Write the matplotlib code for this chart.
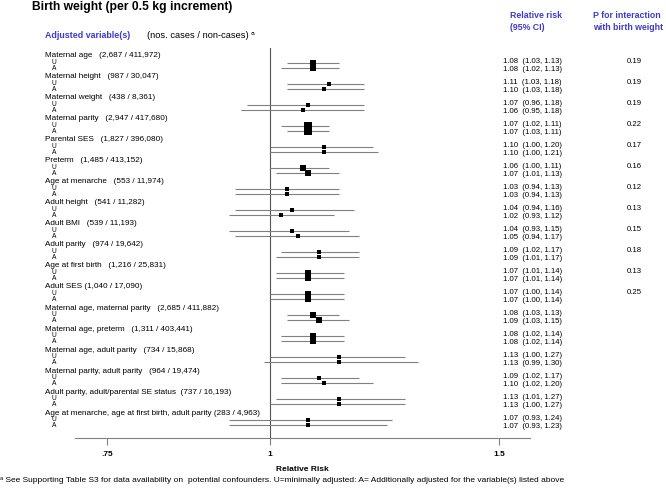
import numpy as np
import matplotlib
matplotlib.use("Agg")
import matplotlib.pyplot as plt
import matplotlib.transforms as mtransforms

plt.rcParams['font.family'] = ['Liberation Sans', 'DejaVu Sans']

# data
labels = ["Maternal age", "Maternal height", "Maternal weight", "Maternal parity",
          "Parental SES", "Preterm", "Age at menarche", "Adult height", "Adult BMI",
          "Adult parity", "Age at first birth", "Adult SES",
          "Maternal age, maternal parity", "Maternal age, preterm",
          "Maternal age, adult parity", "Maternal parity, adult parity",
          "Adult parity, adult/parental SE status",
          "Age at menarche, age at first birth, adult parity"]
counts = ["(2,687 / 411,972)", "(987 / 30,047)", "(438 / 8,361)", "(2,947 / 417,680)",
          "(1,827 / 396,080)", "(1,485 / 413,152)", "(553 / 11,974)", "(541 / 11,282)",
          "(539 / 11,193)", "(974 / 19,642)", "(1,216 / 25,831)", "(1,040 / 17,090)",
          "(2,685 / 411,882)", "(1,311 / 403,441)", "(734 / 15,868)", "(964 / 19,474)",
          "(737 / 16,193)", "(283 / 4,963)"]
seps = ["   "] * 11 + [" "] + ["   "] * 4 + ["  ", " "]

rr_u = [1.08, 1.11, 1.07, 1.07, 1.10, 1.06, 1.03, 1.04, 1.04, 1.09, 1.07, 1.07,
        1.08, 1.08, 1.13, 1.09, 1.13, 1.07]
lo_u = [1.03, 1.03, 0.96, 1.02, 1.00, 1.00, 0.94, 0.94, 0.93, 1.02, 1.01, 1.00,
        1.03, 1.02, 1.00, 1.02, 1.01, 0.93]
hi_u = [1.13, 1.18, 1.18, 1.11, 1.20, 1.11, 1.13, 1.16, 1.15, 1.17, 1.14, 1.14,
        1.13, 1.14, 1.27, 1.17, 1.27, 1.24]
rr_a = [1.08, 1.10, 1.06, 1.07, 1.10, 1.07, 1.03, 1.02, 1.05, 1.09, 1.07, 1.07,
        1.09, 1.08, 1.13, 1.10, 1.13, 1.07]
lo_a = [1.02, 1.03, 0.95, 1.03, 1.00, 1.01, 0.94, 0.93, 0.94, 1.01, 1.01, 1.00,
        1.03, 1.02, 0.99, 1.02, 1.00, 0.93]
hi_a = [1.13, 1.18, 1.18, 1.11, 1.21, 1.13, 1.13, 1.12, 1.17, 1.17, 1.14, 1.14,
        1.15, 1.14, 1.30, 1.20, 1.27, 1.23]
p_int = ["0.19", "0.19", "0.19", "0.22", "0.17", "0.16", "0.12", "0.13", "0.15",
         "0.18", "0.13", "0.25"]

ticks = [0.75, 1, 1.5]
tick_labels = [".75", "1", "1.5"]

blue = '#3b3bcc'
W, H = 666, 488

fig = plt.figure(figsize=(W / 100, H / 100), dpi=100)

def px(x, y):
    return x / W, 1 - y / H

# forest plot axes (log scale)
ax = fig.add_axes([75 / W, (H - 438) / H, 455 / W, 390 / H])
ax.set_xscale('log')
ax.set_xlim(np.exp((75 - 270) / 565), np.exp((530 - 270) / 565))
ax.set_ylim(18.19, -0.38)

n = len(labels)
yu = np.arange(n) + 0.33
ya = np.arange(n) + 0.58

ax.axvline(1, color='#555555', lw=0.8, zorder=1)
ax.hlines(yu, lo_u, hi_u, color='#808080', lw=0.8, zorder=2)
ax.hlines(ya, lo_a, hi_a, color='#808080', lw=0.8, zorder=2)

# marker size grows with weight (inverse CI width)
def msize(lo, hi):
    w = np.log(np.array(hi) / np.array(lo))
    return (1.5 + 0.47 / w) * 0.72

for y, r, s in zip(yu, rr_u, msize(lo_u, hi_u)):
    ax.plot(r, y, 's', color='black', ms=s, mew=0, zorder=3)
for y, r, s in zip(ya, rr_a, msize(lo_a, hi_a)):
    ax.plot(r, y, 's', color='black', ms=s, mew=0, zorder=3)

for side in ['top', 'right', 'left']:
    ax.spines[side].set_visible(False)
ax.spines['bottom'].set_color('#808080')
ax.spines['bottom'].set_linewidth(0.8)
ax.set_yticks([])
ax.set_xticks(ticks)
ax.set_xticklabels(tick_labels, fontsize=6, fontweight='bold')
ax.xaxis.set_minor_locator(matplotlib.ticker.NullLocator())
ax.tick_params(axis='x', length=5, color='#808080', width=0.8, pad=4)
ax.set_xlabel("Relative Risk", fontsize=6, fontweight='bold', labelpad=6)

# text columns
tr = mtransforms.blended_transform_factory(fig.transFigure, ax.transData)
for i in range(n):
    fig.text(45 / W, i, labels[i] + seps[i] + counts[i], transform=tr,
             fontsize=5.9, va='center', ha='left')
    fig.text(52 / W, i + 0.3, "U", transform=tr, fontsize=4.8, va='center')
    fig.text(52 / W, i + 0.6, "A", transform=tr, fontsize=4.8, va='center')
    fig.text(503 / W, i + 0.26, f"{rr_u[i]:.2f}  ({lo_u[i]:.2f}, {hi_u[i]:.2f})",
             transform=tr, fontsize=5.6, va='center')
    fig.text(503 / W, i + 0.63, f"{rr_a[i]:.2f}  ({lo_a[i]:.2f}, {hi_a[i]:.2f})",
             transform=tr, fontsize=5.6, va='center')
    if i < len(p_int):
        fig.text(634 / W, i + 0.26, p_int[i], transform=tr, fontsize=5.6,
                 va='center', ha='center')

# headers
fig.text(*px(32, 7), "Birth weight (per 0.5 kg increment)", fontsize=8.7,
         fontweight='bold', va='center')
fig.text(*px(45, 35), "Adjusted variable(s)", fontsize=6.4, fontweight='bold',
         color=blue, va='center')
fig.text(*px(147, 35), "(nos. cases / non-cases) \u1d43", fontsize=6.7, va='center')
fig.text(*px(510, 16), "Relative risk", fontsize=6.3, fontweight='bold',
         color=blue, va='center')
fig.text(*px(510, 27), "(95% CI)", fontsize=6.3, fontweight='bold',
         color=blue, va='center')
fig.text(*px(593, 16), "P for interaction", fontsize=6.3, fontweight='bold',
         color=blue, va='center')
fig.text(*px(593, 27), "with birth weight", fontsize=6.3, fontweight='bold',
         color=blue, va='center')
fig.text(*px(0, 481), "\u1d43 See Supporting Table S3 for data availability on  potential "
         "confounders. U=minimally adjusted: A= Additionally adjusted for the "
         "variable(s) listed above", fontsize=6.0, va='center')

fig.savefig("out.png", dpi=100)
